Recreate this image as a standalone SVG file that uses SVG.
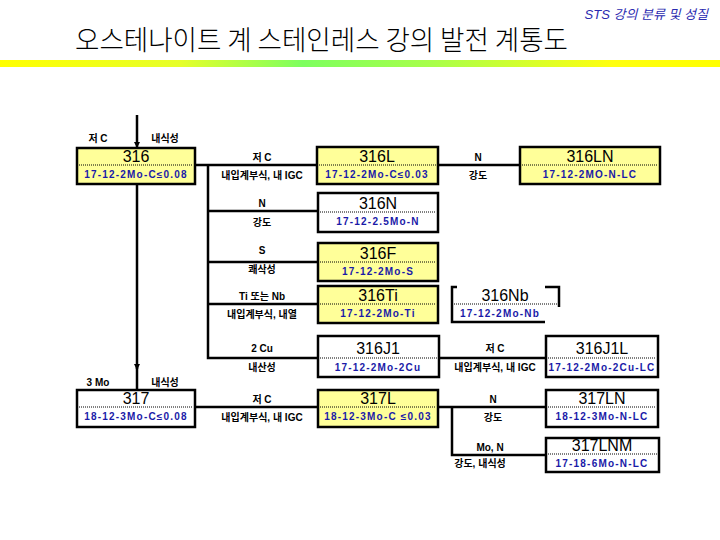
<svg xmlns="http://www.w3.org/2000/svg" width="720" height="540" viewBox="0 0 720 540">
<defs>
<linearGradient id="bar" x1="0" y1="0" x2="1" y2="0">
<stop offset="0" stop-color="#ffff00"/>
<stop offset="0.25" stop-color="#e6ff2a"/>
<stop offset="0.42" stop-color="#7dff5f"/>
<stop offset="0.6" stop-color="#a8ff4a"/>
<stop offset="0.85" stop-color="#ffff10"/>
<stop offset="1" stop-color="#ffff00"/>
</linearGradient>
<marker id="arr" markerWidth="6" markerHeight="6" refX="5" refY="3" orient="auto" markerUnits="userSpaceOnUse">
<path d="M0,0 L6,3 L0,6 Z" fill="#000"/>
</marker>
</defs>
<style>
.box{stroke:#000;stroke-width:2.5;}
.y{fill:#ffff99;}
.w{fill:#ffffff;}
.dot{stroke:#000;stroke-width:1;stroke-dasharray:1 1;fill:none;}
.t{font-family:"Liberation Sans",Arial,sans-serif;font-size:16px;fill:#000;text-anchor:middle;}
.s{font-family:"Liberation Sans",Arial,sans-serif;font-size:10px;font-weight:bold;fill:#1a1aa8;text-anchor:middle;letter-spacing:1.2px;}
.l{font-family:"Liberation Sans","Noto Sans CJK KR",sans-serif;font-size:10px;font-weight:bold;fill:#000;text-anchor:middle;}
.c{stroke:#000;stroke-width:2.5;fill:none;}
</style>
<rect x="0" y="0" width="720" height="540" fill="#fff"/>
<text x="708" y="19" text-anchor="end" font-family="Liberation Sans,'Noto Sans CJK KR',sans-serif" font-size="13" font-style="italic" fill="#2a2ab0">STS 강의 분류 및 성질</text>
<text x="75" y="50" font-family="'Noto Sans CJK KR',sans-serif" font-size="27" font-weight="300" fill="#000" textLength="493" lengthAdjust="spacingAndGlyphs">오스테나이트 계 스테인레스 강의 발전 계통도</text>
<rect x="0" y="60" width="720" height="7" fill="url(#bar)"/>

<g id="connectors">
<line class="c" x1="137" y1="115" x2="137" y2="147" marker-end="url(#arr)"/>
<line class="c" x1="137" y1="184" x2="137" y2="369" marker-end="url(#arr)"/>
<line class="c" x1="137" y1="366" x2="137" y2="390"/>
<line class="c" x1="195" y1="165" x2="317" y2="165"/>
<polyline class="c" points="208,165 208,358 318,358"/>
<line class="c" x1="208" y1="211" x2="318" y2="211"/>
<line class="c" x1="208" y1="262" x2="318" y2="262"/>
<line class="c" x1="208" y1="304" x2="318" y2="304"/>
<line class="c" x1="438" y1="165" x2="520" y2="165"/>
<line class="c" x1="439" y1="358" x2="546" y2="358"/>
<line class="c" x1="195" y1="407" x2="318" y2="407"/>
<line class="c" x1="438" y1="407" x2="546" y2="407"/>
<polyline class="c" points="452,407 452,455 546,455"/>
<text class="l" x="98" y="142">저 C</text>
<text class="l" x="165" y="142">내식성</text>
<text class="l" x="262" y="161">저 C</text>
<text class="l" x="262" y="179">내입계부식, 내 IGC</text>
<text class="l" x="262" y="207">N</text>
<text class="l" x="262" y="226">강도</text>
<text class="l" x="262" y="254">S</text>
<text class="l" x="262" y="273">쾌삭성</text>
<text class="l" x="262" y="300">Ti 또는 Nb</text>
<text class="l" x="262" y="318">내입계부식, 내열</text>
<text class="l" x="262" y="352">2 Cu</text>
<text class="l" x="262" y="371">내산성</text>
<text class="l" x="478" y="161">N</text>
<text class="l" x="478" y="179">강도</text>
<text class="l" x="495" y="352">저 C</text>
<text class="l" x="495" y="371">내입계부식, 내 IGC</text>
<text class="l" x="98" y="386">3 Mo</text>
<text class="l" x="165" y="386">내식성</text>
<text class="l" x="262" y="403">저 C</text>
<text class="l" x="262" y="421">내입계부식, 내 IGC</text>
<text class="l" x="493" y="403">N</text>
<text class="l" x="493" y="421">강도</text>
<text class="l" x="490" y="451">Mo, N</text>
<text class="l" x="480" y="467">강도, 내식성</text>
</g>

<g id="n316"><rect class="box y" x="77" y="148" width="118" height="36"/><line class="dot" x1="79" y1="165" x2="193" y2="165"/><text class="t" x="136" y="162">316</text><text class="s" x="136" y="178">17-12-2Mo-C≤0.08</text></g>
<g id="n316L"><rect class="box y" x="317" y="147" width="121" height="37"/><line class="dot" x1="319" y1="165" x2="436" y2="165"/><text class="t" x="377" y="162">316L</text><text class="s" x="377" y="178">17-12-2Mo-C≤0.03</text></g>
<g id="n316LN"><rect class="box y" x="520" y="147" width="140" height="37"/><line class="dot" x1="522" y1="165" x2="658" y2="165"/><text class="t" x="590" y="162">316LN</text><text class="s" x="590" y="178">17-12-2MO-N-LC</text></g>
<g id="n316N"><rect class="box w" x="318" y="193" width="120" height="39"/><line class="dot" x1="320" y1="212" x2="436" y2="212"/><text class="t" x="378" y="209">316N</text><text class="s" x="378" y="225">17-12-2.5Mo-N</text></g>
<g id="n316F"><rect class="box y" x="318" y="243" width="120" height="38"/><line class="dot" x1="320" y1="262" x2="436" y2="262"/><text class="t" x="378" y="259">316F</text><text class="s" x="378" y="275">17-12-2Mo-S</text></g>
<g id="n316Ti"><rect class="box y" x="318" y="286" width="120" height="37"/><line class="dot" x1="320" y1="304" x2="436" y2="304"/><text class="t" x="378" y="301">316Ti</text><text class="s" x="378" y="317">17-12-2Mo-Ti</text></g>
<g id="n316Nb"><rect x="452" y="287" width="107" height="35" fill="#fff"/><path class="c" d="M457,287 H452 V322 H545"/><path class="c" d="M545,287 H559 V307"/><line class="dot" x1="454" y1="304" x2="557" y2="304"/><text class="t" x="505" y="301">316Nb</text><text class="s" x="500" y="317">17-12-2Mo-Nb</text></g>
<g id="n316J1"><rect class="box w" x="318" y="336" width="121" height="41"/><line class="dot" x1="320" y1="358" x2="437" y2="358"/><text class="t" x="378" y="354">316J1</text><text class="s" x="378" y="371">17-12-2Mo-2Cu</text></g>
<g id="n316J1L"><rect class="box w" x="546" y="336" width="112" height="41"/><line class="dot" x1="548" y1="358" x2="656" y2="358"/><text class="t" x="602" y="354">316J1L</text><text class="s" x="602" y="371">17-12-2Mo-2Cu-LC</text></g>
<g id="n317"><rect class="box w" x="77" y="390" width="118" height="37"/><line class="dot" x1="79" y1="407" x2="193" y2="407"/><text class="t" x="136" y="404">317</text><text class="s" x="136" y="420">18-12-3Mo-C≤0.08</text></g>
<g id="n317L"><rect class="box y" x="318" y="390" width="120" height="37"/><line class="dot" x1="320" y1="407" x2="436" y2="407"/><text class="t" x="378" y="404">317L</text><text class="s" x="378" y="420">18-12-3Mo-C ≤0.03</text></g>
<g id="n317LN"><rect class="box w" x="546" y="390" width="112" height="37"/><line class="dot" x1="548" y1="407" x2="656" y2="407"/><text class="t" x="602" y="404">317LN</text><text class="s" x="602" y="420">18-12-3Mo-N-LC</text></g>
<g id="n317LNM"><rect class="box w" x="546" y="438" width="113" height="34"/><line class="dot" x1="548" y1="454" x2="657" y2="454"/><text class="t" x="602" y="451">317LNM</text><text class="s" x="602" y="467">17-18-6Mo-N-LC</text></g>
</svg>
